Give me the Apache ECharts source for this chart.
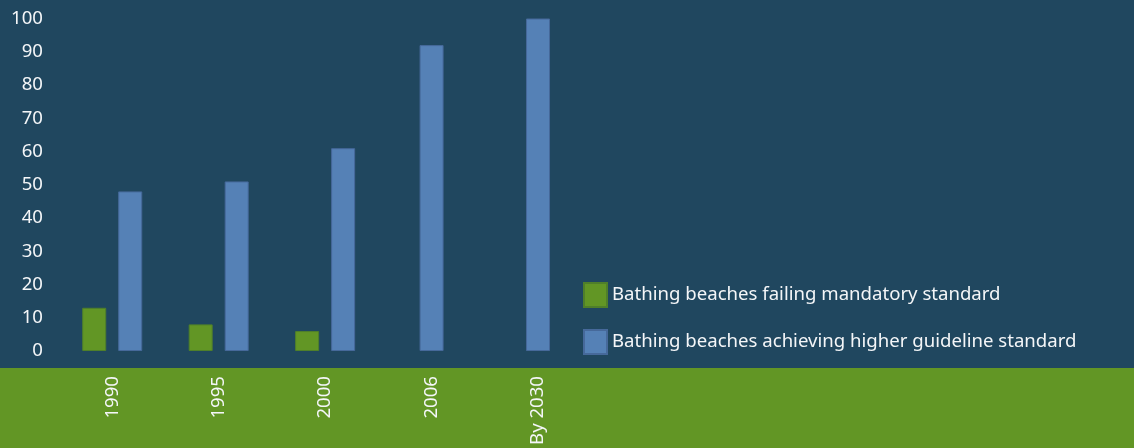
<!DOCTYPE html>
<html>
<head>
<meta charset="utf-8">
<script src="https://cdn.jsdelivr.net/npm/echarts@6/dist/echarts.min.js"></script>
<style>
html,body{margin:0;padding:0;background:#20475f;}
#chart{width:1134px;height:448px;}
</style>
</head>
<body>
<div id="chart"></div>
<script>
const categories = ['1990', '1995', '2000', '2006', 'By 2030'];
const failing = [13, 8, 6, null, null];
const achieving = [48, 51, 61, 92, 100];
const yTicks = [0, 10, 20, 30, 40, 50, 60, 70, 80, 90, 100];
const nameFailing = 'Bathing beaches failing mandatory standard';
const nameAchieving = 'Bathing beaches achieving higher guideline standard';

const achievingPaired = achieving.map((v, i) => failing[i] != null ? v : null);
const achievingAlone = achieving.map((v, i) => failing[i] == null ? v : null);

const chart = echarts.init(document.getElementById('chart'), null, {renderer: 'canvas'});
const font = '"Noto Sans", sans-serif';
const fs = 18.6;
chart.setOption({
  backgroundColor: '#20475f',
  animation: false,
  graphic: [{
    type: 'rect', left: 0, bottom: 0, z: -10,
    shape: {width: 1134, height: 80},
    style: {fill: '#629625'}
  }],
  grid: {left: 59, right: 542.75, top: 18.5, bottom: 97, containLabel: false},
  legend: {
    orient: 'vertical', left: 583, top: 282, padding: 0,
    itemWidth: 23, itemHeight: 24, itemGap: 21, icon: 'rect',
    data: [nameFailing, nameAchieving],
    textStyle: {color: '#f4f6f8', fontSize: fs, fontFamily: font}
  },
  xAxis: [{
    type: 'category', data: categories,
    axisLine: {show: false}, axisTick: {show: false}, splitLine: {show: false},
    axisLabel: {rotate: 90, color: '#f4f6f8', fontSize: fs, fontFamily: font, margin: 25, interval: 0}
  }, {
    type: 'category', data: categories, show: false
  }],
  yAxis: {
    type: 'value', min: yTicks[0], max: yTicks[yTicks.length - 1], interval: 10,
    axisLine: {show: false}, axisTick: {show: false}, splitLine: {show: false},
    axisLabel: {color: '#f4f6f8', fontSize: fs, fontFamily: font, margin: 16, padding: [0, 0, 4, 0]}
  },
  series: [{
    name: nameFailing, type: 'bar', xAxisIndex: 0, data: failing,
    barWidth: 24, barGap: '50%',
    itemStyle: {color: '#629625', borderColor: '#4f7f2a', borderWidth: 1}
  }, {
    name: nameAchieving, type: 'bar', xAxisIndex: 0, data: achievingPaired,
    barWidth: 24, barGap: '50%',
    itemStyle: {color: '#5581b6', borderColor: '#46699a', borderWidth: 1}
  }, {
    name: nameAchieving, type: 'bar', xAxisIndex: 1, data: achievingAlone,
    barWidth: 24,
    itemStyle: {color: '#5581b6', borderColor: '#46699a', borderWidth: 1}
  }]
});
</script>
</body>
</html>
